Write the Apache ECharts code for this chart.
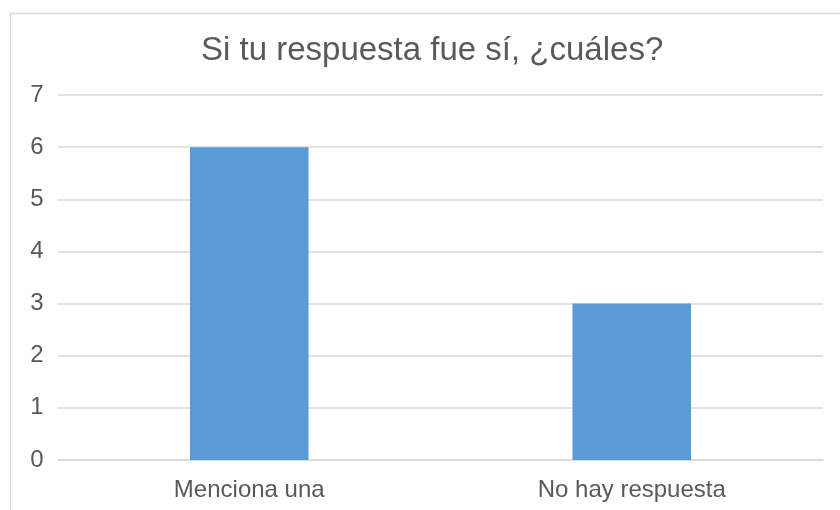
<!DOCTYPE html>
<html>
<head>
<meta charset="utf-8">
<script src="https://cdn.jsdelivr.net/npm/echarts@6/dist/echarts.min.js"></script>
<style>html,body{margin:0;padding:0;background:#fff}#c{width:840px;height:510px}</style>
</head>
<body>
<div id="c"></div>
<script>
var categories = ['Menciona una', 'No hay respuesta'];
var values = [6, 3];
var yTicks = [0, 1, 2, 3, 4, 5, 6, 7];

var chart = echarts.init(document.getElementById('c'), null, {renderer: 'canvas'});
chart.setOption({
  animation: false,
  backgroundColor: '#ffffff',
  textStyle: {fontFamily: 'Liberation Sans, Arial, sans-serif'},
  graphic: [{
    type: 'rect', left: 8, top: 11,
    shape: {width: 900, height: 600},
    style: {fill: 'none', stroke: '#d9d9d9', lineWidth: 1.5},
    silent: true
  }],
  title: {
    text: 'Si tu respuesta fue sí, ¿cuáles?',
    left: 196, top: 29,
    textStyle: {fontSize: 33, fontWeight: 'normal', color: '#595959', fontFamily: 'Liberation Sans, Arial, sans-serif'}
  },
  grid: {left: 58, right: 17, top: 95, bottom: 50, containLabel: false},
  xAxis: {
    type: 'category', data: categories,
    axisLine: {show: true, lineStyle: {color: '#d9d9d9', width: 1.5}},
    axisTick: {show: false},
    axisLabel: {fontSize: 24, color: '#595959', margin: 18}
  },
  yAxis: {
    type: 'value', min: yTicks[0], max: yTicks[yTicks.length - 1], interval: 1,
    axisLine: {show: false}, axisTick: {show: false},
    splitLine: {lineStyle: {color: '#d9d9d9', width: 1.5}},
    axisLabel: {fontSize: 24, color: '#595959', margin: 21, align: 'center'}
  },
  series: [{
    type: 'bar', data: values, barWidth: '31%',
    itemStyle: {color: '#5b9bd5'}
  }]
});
</script>
</body>
</html>
